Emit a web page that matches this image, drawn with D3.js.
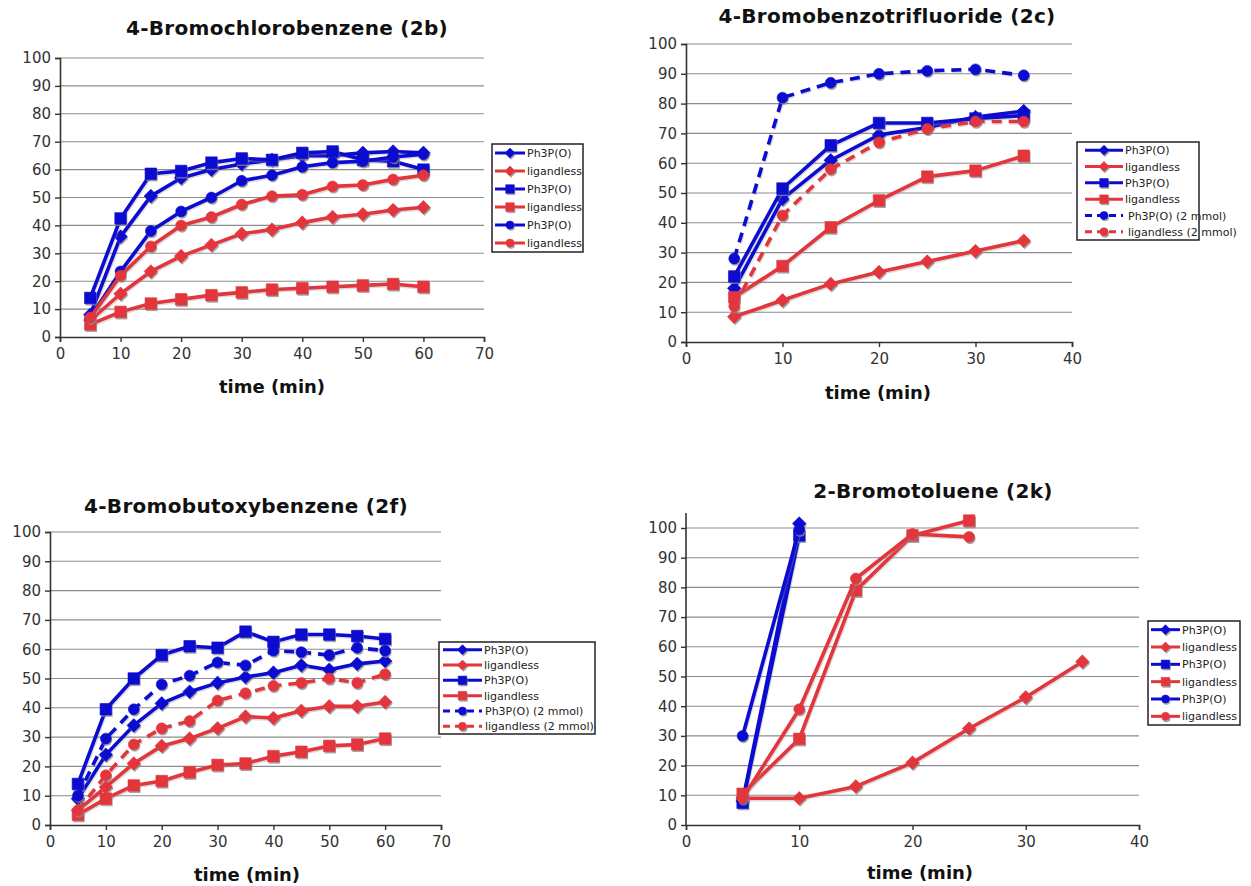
<!DOCTYPE html>
<html><head><meta charset="utf-8">
<script src="https://cdn.jsdelivr.net/npm/d3@7"></script>
<style>body{margin:0;background:#fff}svg{display:block}text{font-family:"DejaVu Sans",Verdana,sans-serif}</style>
</head><body>
<svg id="c" width="1251" height="886"></svg>
<script>
// ---------------- DATA ----------------
const yTicks = [0,10,20,30,40,50,60,70,80,90,100];
const xTicks70 = [0,10,20,30,40,50,60,70];
const xTicks40 = [0,10,20,30,40];

// Panel 2b
const t2b = [5,10,15,20,25,30,35,40,45,50,55,60];
const b_ph_dia = [8,36,50.5,57,60,62,63.5,65,65,66,66.5,66];
const b_lig_dia = [6,15.5,23.5,29,33,37,38.5,41,43,44,45.5,46.5];
const b_ph_sq = [14,42.5,58.5,59.5,62.5,64,63.5,66,66.5,63.5,63,60];
const b_lig_sq = [4.5,9,12,13.5,15,16,17,17.5,18,18.5,19,18];
const b_ph_ci = [7,23.5,38,45,50,56,58,61,62.5,63,64.5,65.5];
const b_lig_ci = [7,22,32.5,40,43,47.5,50.5,51,54,54.5,56.5,58];

// Panel 2c
const t2c = [5,10,15,20,25,30,35];
const c_ph_dia = [18,48,61,69.5,72,75.5,77.5];
const c_lig_dia = [8.5,14,19.5,23.5,27,30.5,34];
const c_ph_sq = [22,51.5,66,73.5,73.5,75,76];
const c_lig_sq = [15,25.5,38.5,47.5,55.5,57.5,62.5];
const c_ph2_ci = [28,82,87,90,91,91.5,89.5];
const c_lig2_ci = [12,42.5,58,67,71.5,74,74];

// Panel 2f
const t2f = [5,10,15,20,25,30,35,40,45,50,55,60];
const f_ph_dia = [9,24,34,41.5,45.5,48.5,50.5,52,54.5,53,55,56];
const f_lig_dia = [5,13,21,27,29.5,33,37,36.5,39,40.5,40.5,42];
const f_ph_sq = [14,39.5,50,58,61,60.5,66,62.5,65,65,64.5,63.5];
const f_lig_sq = [3.5,9,13.5,15,18,20.5,21,23.5,25,27,27.5,29.5];
const f_ph2_ci = [10,29.5,39.5,48,51,55.5,54.5,59.5,59,58,60.5,59.5];
const f_lig2_ci = [5,17,27.5,33,35.5,42.5,45,47.5,48.5,50,48.5,51.5];

// Panel 2k
const k_ph_dia_t = [5,10];
const k_ph_dia = [8,101.5];
const k_lig_dia_t = [5,10,15,20,25,30,35];
const k_lig_dia = [9,9,13,21,32.5,43,55];
const k_ph_sq_t = [5,10];
const k_ph_sq = [7.5,97.5];
const k_lig_sq_t = [5,10,15,20,25];
const k_lig_sq = [10.5,29,79,97.5,102.5];
const k_ph_ci_t = [5,10];
const k_ph_ci = [30,99.5];
const k_lig_ci_t = [5,10,15,20,25];
const k_lig_ci = [9,39,83,98,97];

const titles = ["4-Bromochlorobenzene (2b)","4-Bromobenzotrifluoride (2c)","4-Bromobutoxybenzene (2f)","2-Bromotoluene (2k)"];
const xLabel = "time (min)";

// ---------------- STYLE / LAYOUT ----------------
const BLUE = "#0c0cd0", RED = "#e2353c";
const svg = d3.select("#c");

const panels = [
 {title:titles[0], xr:[60,484], yr:[337,58], xd:70, xt:xTicks70, tx:287, ty:35, lx:272, ly:393,
  series:[
   {n:"Ph3P(O)",c:BLUE,m:"dia",t:t2b,v:b_ph_dia},
   {n:"ligandless",c:RED,m:"dia",t:t2b,v:b_lig_dia},
   {n:"Ph3P(O)",c:BLUE,m:"sq",t:t2b,v:b_ph_sq},
   {n:"ligandless",c:RED,m:"sq",t:t2b,v:b_lig_sq},
   {n:"Ph3P(O)",c:BLUE,m:"ci",t:t2b,v:b_ph_ci},
   {n:"ligandless",c:RED,m:"ci",t:t2b,v:b_lig_ci}],
  leg:{x:492,y:144,w:91,h:108,l0:495,l1:525,tx:527}},
 {title:titles[1], xr:[686,1072], yr:[342,44], xd:40, xt:xTicks40, tx:887, ty:23, lx:878, ly:399,
  series:[
   {n:"Ph3P(O)",c:BLUE,m:"dia",t:t2c,v:c_ph_dia},
   {n:"ligandless",c:RED,m:"dia",t:t2c,v:c_lig_dia},
   {n:"Ph3P(O)",c:BLUE,m:"sq",t:t2c,v:c_ph_sq},
   {n:"ligandless",c:RED,m:"sq",t:t2c,v:c_lig_sq},
   {n:"Ph3P(O) (2 mmol)",c:BLUE,m:"ci",t:t2c,v:c_ph2_ci,dash:true},
   {n:"ligandless  (2 mmol)",c:RED,m:"ci",t:t2c,v:c_lig2_ci,dash:true}],
  leg:{x:1077,y:142,w:122,h:98,l0:1085,l1:1123,tx:1125,tx2:1128}},
 {title:titles[2], xr:[50,441], yr:[825,532], xd:70, xt:xTicks70, tx:246, ty:513, lx:247, ly:881,
  series:[
   {n:"Ph3P(O)",c:BLUE,m:"dia",t:t2f,v:f_ph_dia},
   {n:"ligandless",c:RED,m:"dia",t:t2f,v:f_lig_dia},
   {n:"Ph3P(O)",c:BLUE,m:"sq",t:t2f,v:f_ph_sq},
   {n:"ligandless",c:RED,m:"sq",t:t2f,v:f_lig_sq},
   {n:"Ph3P(O)  (2 mmol)",c:BLUE,m:"ci",t:t2f,v:f_ph2_ci,dash:true},
   {n:"ligandless (2 mmol)",c:RED,m:"ci",t:t2f,v:f_lig2_ci,dash:true}],
  leg:{x:439,y:642,w:156,h:92,l0:443,l1:482,tx:484,tx2:485}},
 {title:titles[3], xr:[686,1139], yr:[825,528], xd:40, xt:xTicks40, tx:933, ty:498, lx:920, ly:879, axisTop:513,
  series:[
   {n:"Ph3P(O)",c:BLUE,m:"dia",t:k_ph_dia_t,v:k_ph_dia},
   {n:"ligandless",c:RED,m:"dia",t:k_lig_dia_t,v:k_lig_dia},
   {n:"Ph3P(O)",c:BLUE,m:"sq",t:k_ph_sq_t,v:k_ph_sq},
   {n:"ligandless",c:RED,m:"sq",t:k_lig_sq_t,v:k_lig_sq},
   {n:"Ph3P(O)",c:BLUE,m:"ci",t:k_ph_ci_t,v:k_ph_ci},
   {n:"ligandless",c:RED,m:"ci",t:k_lig_ci_t,v:k_lig_ci}],
  leg:{x:1148,y:621,w:92,h:104,l0:1151,l1:1180,tx:1182}}
];

function markerPath(m, s){
  if(m==="dia") return `M0,${-s}L${s},0L0,${s}L${-s},0Z`;
  if(m==="sq") return `M${-s*0.85},${-s*0.85}H${s*0.85}V${s*0.85}H${-s*0.85}Z`;
  return d3.symbol(d3.symbolCircle, Math.PI*(s*0.8)*(s*0.8))();
}

function drawMarker(g, m, color, x, y, s){
  g.append("path").attr("d", markerPath(m,s)).attr("transform",`translate(${x+1},${y+1.8})`)
    .attr("fill","#8a8a8a").attr("opacity",0.75);
  g.append("path").attr("d", markerPath(m,s)).attr("transform",`translate(${x},${y})`)
    .attr("fill",color).attr("stroke",color).attr("stroke-width",0.6);
}

panels.forEach(p=>{
  const x = d3.scaleLinear().domain([0,p.xd]).range(p.xr);
  const y = d3.scaleLinear().domain([0,100]).range(p.yr);
  const g = svg.append("g");

  // gridlines
  g.append("g").selectAll("line").data(yTicks.filter(d=>d>0)).join("line")
    .attr("x1",p.xr[0]).attr("x2",p.xr[1]).attr("y1",d=>y(d)).attr("y2",d=>y(d))
    .attr("stroke","#8c8c8c").attr("stroke-width",1.1);

  // y axis
  const ya = g.append("g").attr("transform",`translate(${p.xr[0]},0)`)
    .call(d3.axisLeft(y).tickValues(yTicks).tickSize(5).tickPadding(4));
  ya.select(".domain").attr("stroke","#333").attr("stroke-width",1.6);
  if(p.axisTop!==undefined) ya.select(".domain").attr("d",`M-0,${p.axisTop}V${p.yr[0]}`);
  ya.selectAll(".tick line").attr("stroke","#333").attr("stroke-width",1.4);
  ya.selectAll("text").attr("font-size",15).attr("fill","#333").attr("font-family","DejaVu Sans");

  // x axis
  const xa = g.append("g").attr("transform",`translate(0,${p.yr[0]})`)
    .call(d3.axisBottom(x).tickValues(p.xt).tickSize(5).tickPadding(6));
  xa.select(".domain").attr("stroke","#333").attr("stroke-width",1.6);
  xa.selectAll(".tick line").attr("stroke","#333").attr("stroke-width",1.4);
  xa.selectAll("text").attr("font-size",15).attr("fill","#333").attr("font-family","DejaVu Sans");

  // title & x label
  g.append("text").attr("x",p.tx).attr("y",p.ty).attr("text-anchor","middle")
    .attr("font-size",20).attr("font-weight","bold").attr("letter-spacing",0.3).attr("fill","#111").text(p.title);
  g.append("text").attr("x",p.lx).attr("y",p.ly).attr("text-anchor","middle")
    .attr("font-size",18).attr("font-weight","bold").attr("fill","#111").text(xLabel);

  const line = d3.line().x(d=>x(d[0])).y(d=>y(d[1]));
  p.series.forEach(s=>{
    const pts = s.t.map((t,i)=>[t,s.v[i]]);
    g.append("path").datum(pts).attr("d",line).attr("fill","none")
      .attr("stroke","#9a9a9a").attr("stroke-width",3.4).attr("opacity",0.35)
      .attr("transform","translate(1,1.5)")
      .attr("stroke-dasharray", s.dash?"10,7":null);
    g.append("path").datum(pts).attr("d",line).attr("fill","none")
      .attr("stroke",s.c).attr("stroke-width",3.6).attr("stroke-linejoin","round")
      .attr("stroke-dasharray", s.dash?"10,7":null);
    pts.forEach(d=>drawMarker(g, s.m, s.c, x(d[0]), y(d[1]), 6.8));
  });

  // legend
  const L = p.leg;
  const lg = svg.append("g");
  lg.append("rect").attr("x",L.x).attr("y",L.y).attr("width",L.w).attr("height",L.h)
    .attr("fill","#fff").attr("stroke","#222").attr("stroke-width",1.5);
  const rh = L.h/p.series.length;
  p.series.forEach((s,i)=>{
    const cy = L.y + rh*(i+0.5);
    lg.append("line").attr("x1",L.l0).attr("x2",L.l1).attr("y1",cy).attr("y2",cy)
      .attr("stroke",s.c).attr("stroke-width",3).attr("stroke-dasharray", s.dash?"7,5":null);
    drawMarker(lg, s.m, s.c, (L.l0+L.l1)/2, cy, 5);
    lg.append("text").attr("x", s.dash && L.tx2 ? L.tx2 : L.tx).attr("y",cy+4)
      .attr("font-size",11).attr("fill","#222").text(s.n);
  });
});
</script>
</body></html>
